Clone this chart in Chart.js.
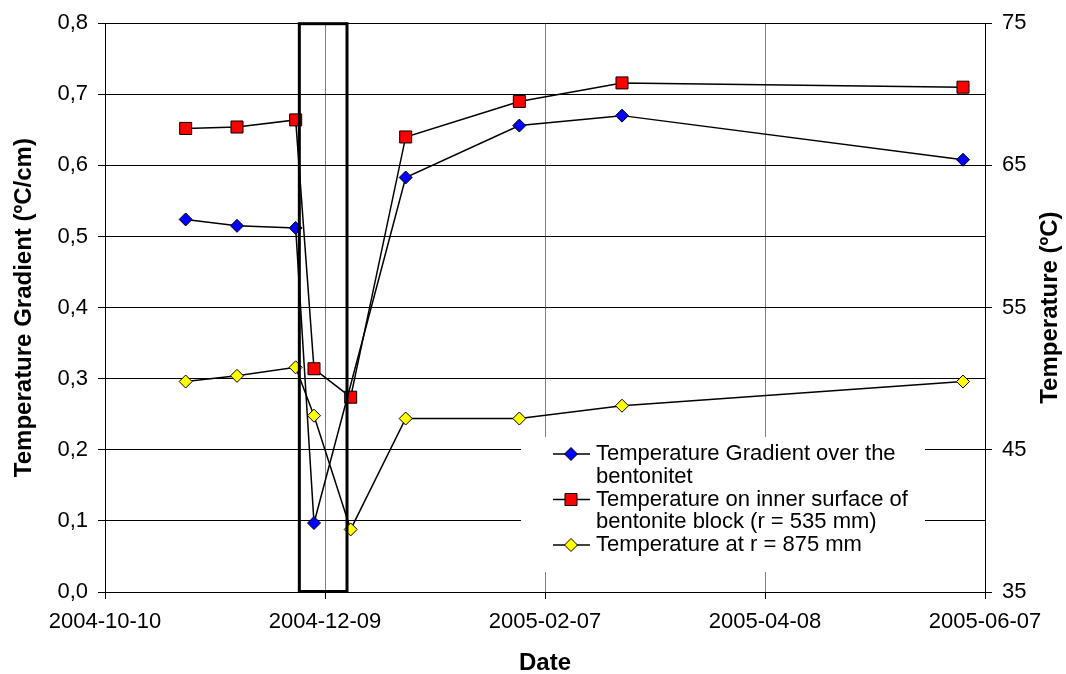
<!DOCTYPE html>
<html><head><meta charset="utf-8">
<script src="https://cdn.jsdelivr.net/npm/chart.js@4.4.1/dist/chart.umd.min.js"></script>
<style>html,body{margin:0;padding:0;background:#fff}</style>
</head><body>
<canvas id="c" width="1066" height="674"></canvas>
<script>
// ---- data ----
const dates = ['2004-11-01','2004-11-15','2004-12-01','2004-12-06','2004-12-16','2004-12-31','2005-01-31','2005-02-28','2005-06-01'];
const gradientDates = ['2004-11-01','2004-11-15','2004-12-01','2004-12-06','2004-12-31','2005-01-31','2005-02-28','2005-06-01'];
const gradientValues = [0.524, 0.515, 0.512, 0.097, 0.583, 0.656, 0.670, 0.608];
const innerSurfaceTemps = [67.6, 67.7, 68.2, 50.7, 48.7, 67.0, 69.5, 70.8, 70.5];
const temps875 = [49.8, 50.2, 50.8, 47.4, 39.4, 47.2, 47.2, 48.1, 49.8];
const xTickLabels = ['2004-10-10','2004-12-09','2005-02-07','2005-04-08','2005-06-07'];
const boxDates = ['2004-12-02','2004-12-15'];
const seriesLabels = [
  ['Temperature Gradient over the','bentonitet'],
  ['Temperature on inner surface of','bentonite block (r = 535 mm)'],
  ['Temperature at r = 875 mm']
];
const leftTitle = 'Temperature Gradient (ºC/cm)';
const rightTitle = 'Temperature (ºC)';
const xTitle = 'Date';

// ---- helpers ----
const DAY = 86400000;
function day(s){ const [y,m,d] = s.split('-').map(Number); return Date.UTC(y, m-1, d) / DAY; }
function fmt(v){ return new Date(Math.round(v) * DAY).toISOString().slice(0,10); }

const FONT = '"Liberation Sans", Arial, sans-serif';
Chart.defaults.font.family = FONT;
Chart.defaults.color = '#000';

const seriesStyles = [
  {color:'#0000FF', shape:'rectRot', radius:6.5},
  {color:'#FF0000', shape:'rect', radius:8.5},
  {color:'#FFFF00', shape:'rectRot', radius:6.5}
];

function drawMarker(ctx, shape, cx, cy, r, fill){
  ctx.save();
  ctx.beginPath();
  if (shape === 'rect') {
    const s = r * Math.SQRT1_2;
    ctx.rect(cx - s, cy - s, 2*s, 2*s);
  } else {
    ctx.moveTo(cx, cy - r); ctx.lineTo(cx + r, cy); ctx.lineTo(cx, cy + r); ctx.lineTo(cx - r, cy); ctx.closePath();
  }
  ctx.fillStyle = fill; ctx.fill();
  ctx.lineWidth = 1; ctx.strokeStyle = '#000'; ctx.stroke();
  ctx.restore();
}

const overlay = {
  id: 'overlay',
  afterDatasetsDraw(chart){
    const {ctx, chartArea:a, scales:{x}} = chart;
    ctx.save();
    // highlighted period box
    const x1 = x.getPixelForValue(day(boxDates[0]));
    const x2 = x.getPixelForValue(day(boxDates[1]));
    ctx.lineWidth = 3; ctx.strokeStyle = '#000';
    ctx.strokeRect(x1, a.top + 0.5, x2 - x1, a.bottom - a.top - 1);
    // legend
    ctx.fillStyle = '#fff';
    ctx.fillRect(521, 437, 404, 135);
    ctx.font = '22px ' + FONT;
    ctx.textBaseline = 'middle';
    ctx.textAlign = 'left';
    const rowH = 22.75;
    let y = 454;
    seriesLabels.forEach((lines, i) => {
      const st = seriesStyles[i];
      ctx.strokeStyle = '#000'; ctx.lineWidth = 1.5;
      ctx.beginPath(); ctx.moveTo(553, y); ctx.lineTo(590, y); ctx.stroke();
      drawMarker(ctx, st.shape, 571, y, st.radius, st.color);
      ctx.fillStyle = '#000';
      lines.forEach((t, k) => ctx.fillText(t, 596, y + k * rowH));
      y += lines.length * rowH;
    });
    // right axis title, reading bottom-to-top like the left one
    ctx.translate(1050, (a.top + a.bottom) / 2);
    ctx.rotate(-Math.PI / 2);
    ctx.font = 'bold 24px ' + FONT;
    ctx.textAlign = 'center';
    ctx.textBaseline = 'middle';
    ctx.fillStyle = '#000';
    ctx.fillText(rightTitle, 0, 0);
    ctx.restore();
  }
};

function makeDataset(label, xs, ys, axis, st){
  return {
    label: label,
    data: xs.map((d, i) => ({x: day(d), y: ys[i]})),
    yAxisID: axis,
    borderColor: '#000',
    borderWidth: 1.5,
    backgroundColor: st.color,
    pointStyle: st.shape,
    pointRadius: st.radius,
    pointBorderColor: '#000',
    pointBorderWidth: 1,
    pointBackgroundColor: st.color,
    tension: 0,
    fill: false
  };
}

new Chart(document.getElementById('c'), {
  type: 'line',
  data: {
    datasets: [
      makeDataset(seriesLabels[0].join(' '), gradientDates, gradientValues, 'y', seriesStyles[0]),
      makeDataset(seriesLabels[1].join(' '), dates, innerSurfaceTemps, 'y2', seriesStyles[1]),
      makeDataset(seriesLabels[2].join(' '), dates, temps875, 'y2', seriesStyles[2])
    ]
  },
  options: {
    responsive: false,
    animation: false,
    devicePixelRatio: 1,
    layout: {padding: {top: 22, left: 0, right: 0, bottom: 0}},
    plugins: {legend: {display: false}, tooltip: {enabled: false}},
    scales: {
      x: {
        type: 'linear',
        min: day(xTickLabels[0]),
        max: day(xTickLabels[xTickLabels.length - 1]),
        afterBuildTicks: (s) => { s.ticks = xTickLabels.map(d => ({value: day(d)})); },
        afterFit: (s) => { s.height = 82; },
        ticks: {font: {size: 22}, padding: 10, maxRotation: 0, autoSkip: false, callback: (v) => fmt(v)},
        grid: {
          color: (c) => (c.index === 0 || c.index === xTickLabels.length - 1) ? '#000' : '#808080',
          tickColor: '#000', tickLength: 7, lineWidth: 1
        },
        border: {color: '#000', width: 1},
        title: {display: true, text: xTitle, font: {size: 24, weight: 'bold', lineHeight: 1}, padding: {top: 0, bottom: -1}}
      },
      y: {
        position: 'left',
        min: 0, max: 0.8,
        ticks: {stepSize: 0.1, font: {size: 22}, padding: 10, callback: (v) => Number(v).toFixed(1).replace('.', ',')},
        afterFit: (s) => { s.width = 105; },
        grid: {color: '#000', tickColor: '#000', tickLength: 7, lineWidth: 1},
        border: {color: '#000', width: 1},
        title: {display: true, text: leftTitle, font: {size: 24, weight: 'bold', lineHeight: 1.2}, padding: {top: 10, bottom: 0}}
      },
      y2: {
        position: 'right',
        min: 35, max: 75,
        ticks: {stepSize: 10, font: {size: 22}, padding: 10},
        afterFit: (s) => { s.width = 81; },
        grid: {drawOnChartArea: false, color: '#000', tickColor: '#000', tickLength: 7},
        border: {color: '#000', width: 1},
        title: {display: false}
      }
    }
  },
  plugins: [overlay]
});
</script>
</body></html>
